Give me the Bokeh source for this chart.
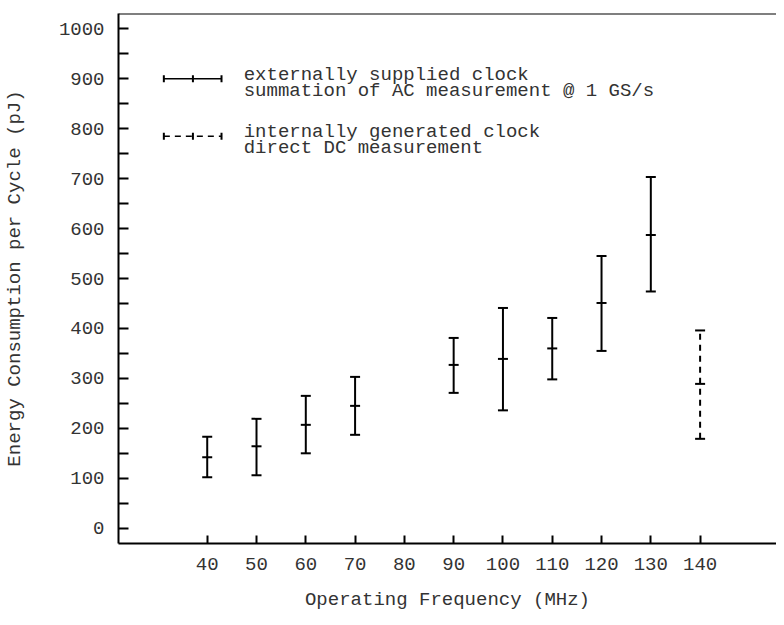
from bokeh.plotting import figure
from bokeh.models import (ColumnDataSource, Whisker, TeeHead, FixedTicker, Span,
                          Label, Range1d)
from bokeh.embed import file_html
from bokeh.resources import INLINE

# ---------------- data ----------------
freq_ext = [40, 50, 60, 70, 90, 100, 110, 120, 130]
energy_ext = [142, 164, 207, 245, 327, 339, 360, 451, 587]
low_ext = [102, 106, 150, 187, 271, 236, 298, 355, 474]
high_ext = [183, 219, 265, 303, 381, 441, 421, 545, 703]

freq_int = [140]
energy_int = [289]
low_int = [179]
high_int = [396]

x_ticks = [40, 50, 60, 70, 80, 90, 100, 110, 120, 130, 140]
y_ticks = list(range(0, 1001, 50))
y_tick_labels = {t: (str(t) if t % 100 == 0 else "") for t in y_ticks}

legend_ext = ["externally supplied clock", "summation of AC measurement @ 1 GS/s"]
legend_int = ["internally generated clock", "direct DC measurement"]

x_title = "Operating Frequency (MHz)"
y_title = "Energy Consumption per Cycle (pJ)"

FONT = "Liberation Mono"
TXT = "#333333"

X0, X1 = 22.0, 155.5
Y0, Y1 = -30.6, 1030.6

p = figure(width=776, height=617, output_backend="svg", toolbar_location=None,
           x_range=Range1d(X0, X1), y_range=Range1d(Y0, Y1),
           min_border_left=109, min_border_right=0, min_border_top=13,
           min_border_bottom=74)
p.outline_line_color = None
p.grid.visible = False
p.background_fill_color = "white"
p.border_fill_color = "white"

# top border line
p.add_layout(Span(location=Y1, dimension="width", line_color="black", line_width=2))

# axes
for ax in (p.xaxis[0], p.yaxis[0]):
    ax.axis_line_width = 2
    ax.axis_line_color = "black"
    ax.major_tick_line_width = 2
    ax.major_tick_line_color = "black"
    ax.major_tick_out = 0
    ax.minor_tick_line_color = None
    ax.major_label_text_font = FONT
    ax.major_label_text_font_size = "19px"
    ax.major_label_text_color = TXT
    ax.axis_label_text_font = FONT
    ax.axis_label_text_font_size = "19px"
    ax.axis_label_text_font_style = "normal"
    ax.axis_label_text_color = TXT

p.xaxis.ticker = FixedTicker(ticks=x_ticks)
p.xaxis.major_tick_in = 8
p.xaxis.major_label_standoff = 14
p.xaxis.axis_label = x_title
p.xaxis.axis_label_standoff = 16

p.yaxis.ticker = FixedTicker(ticks=y_ticks)
p.yaxis.major_label_overrides = y_tick_labels
p.yaxis.major_tick_in = 10
p.yaxis.major_label_standoff = 14
p.yaxis.axis_label = y_title
p.yaxis.axis_label_standoff = 30

# ---------------- error bars ----------------
src_ext = ColumnDataSource(dict(x=freq_ext, y=energy_ext, lo=low_ext, hi=high_ext))
src_int = ColumnDataSource(dict(x=freq_int, y=energy_int, lo=low_int, hi=high_int))

def heads(size):
    return (TeeHead(size=size, line_width=2, line_color="black"),
            TeeHead(size=size, line_width=2, line_color="black"))

uh, lh = heads(10)
p.add_layout(Whisker(source=src_ext, base="x", lower="lo", upper="hi",
                     line_width=2, line_color="black", upper_head=uh, lower_head=lh))
uh, lh = heads(10)
p.add_layout(Whisker(source=src_int, base="x", lower="lo", upper="hi",
                     line_width=2, line_color="black", line_dash="6 5",
                     upper_head=uh, lower_head=lh))
p.scatter("x", "y", source=src_ext, marker="dash", size=10, line_width=2,
          line_color="black")
p.scatter("x", "y", source=src_int, marker="dash", size=10, line_width=2,
          line_color="black")

# ---------------- legend (drawn by hand) ----------------
leg_x_lo, leg_x_mid, leg_x_hi = 31.2, 37.1, 42.9
leg_y = [900, 785]
leg_text_x = 47.4
leg_text_y = [[907, 875], [793, 761]]
leg_dash = [None, "6 5"]
leg_texts = [legend_ext, legend_int]

for i in range(2):
    s = ColumnDataSource(dict(y=[leg_y[i]], lo=[leg_x_lo], hi=[leg_x_hi], x=[leg_x_mid]))
    kw = dict(line_dash=leg_dash[i]) if leg_dash[i] else {}
    uh, lh = heads(7)
    p.add_layout(Whisker(source=s, base="y", lower="lo", upper="hi", dimension="width",
                         line_width=1.5, line_color="black",
                         upper_head=uh, lower_head=lh, **kw))
    p.scatter("x", "y", source=s, marker="dash", angle=1.5707963, size=7,
              line_width=2, line_color="black")
    for j in range(2):
        p.add_layout(Label(x=leg_text_x, y=leg_text_y[i][j], text=leg_texts[i][j],
                           text_font=FONT, text_font_size="19px", text_color=TXT,
                           text_baseline="middle", text_align="left"))

open("out.html", "w").write(file_html(p, INLINE))
